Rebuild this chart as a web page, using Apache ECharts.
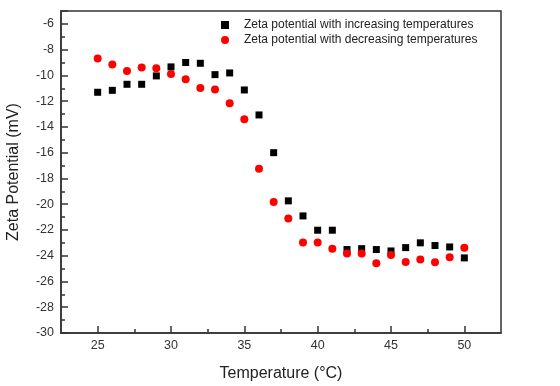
<!DOCTYPE html>
<html>
<head>
<meta charset="utf-8">
<script src="https://cdn.jsdelivr.net/npm/echarts@6/dist/echarts.min.js"></script>
<style>
html,body{margin:0;padding:0;background:#fff;}
#c{width:560px;height:386px;}
</style>
</head>
<body>
<div id="c"></div>
<script>
const temperatures = [25,26,27,28,29,30,31,32,33,34,35,36,37,38,39,40,41,42,43,44,45,46,47,48,49,50];
const increasing = [-11.31,-11.16,-10.69,-10.69,-10.04,-9.34,-9.0,-9.06,-9.94,-9.81,-11.13,-13.07,-16.0,-19.74,-20.91,-22.02,-22.02,-23.52,-23.45,-23.52,-23.63,-23.37,-23.0,-23.21,-23.32,-24.17];
const decreasing = [-8.69,-9.16,-9.65,-9.39,-9.45,-9.89,-10.30,-10.97,-11.10,-12.17,-13.41,-17.24,-19.82,-21.11,-22.98,-22.98,-23.45,-23.83,-23.83,-24.59,-23.94,-24.48,-24.30,-24.51,-24.12,-23.39];
const xTickLabels = [25,30,35,40,45,50];
const xMinorTicks = [27.5,32.5,37.5,42.5,47.5];
const seriesNames = ['Zeta potential with increasing temperatures','Zeta potential with decreasing temperatures'];

const font = '"Liberation Sans", Arial, sans-serif';
const axisColor = '#333';

const chart = echarts.init(document.getElementById('c'), null, {renderer:'canvas'});
chart.setOption({
  animation:false,
  backgroundColor:'#fff',
  grid:{left:61,right:59,top:11,bottom:53,outerBoundsMode:'none',containLabel:false,show:true,borderColor:axisColor,borderWidth:1.5,backgroundColor:'transparent'},
  legend:{
    orient:'vertical',left:216,top:13,itemWidth:8,itemHeight:8,itemGap:1,
    textStyle:{fontFamily:font,fontSize:12,color:'#222',padding:[0,0,0,10],lineHeight:14},
    data:[{name:seriesNames[0],icon:'rect'},{name:seriesNames[1],icon:'circle'}]
  },
  xAxis:[{
    type:'value',min:22.5,max:52.5,interval:2.5,
    name:'Temperature (°C)',nameLocation:'middle',nameGap:33,
    nameTextStyle:{fontFamily:font,fontSize:16,color:'#222'},
    axisLine:{show:true,onZero:false,lineStyle:{color:axisColor,width:1.5}},
    axisTick:{show:true,inside:true,length:7,customValues:xTickLabels,lineStyle:{color:axisColor,width:1.5}},
    axisLabel:{customValues:xTickLabels,margin:6,fontFamily:font,fontSize:12.5,color:'#333'},
    splitLine:{show:false}
  },{
    type:'value',min:22.5,max:52.5,interval:2.5,position:'bottom',
    axisLine:{show:false},
    axisTick:{show:true,inside:true,length:4,customValues:xMinorTicks,lineStyle:{color:axisColor,width:1.5}},
    axisLabel:{show:false},
    splitLine:{show:false}
  }],
  yAxis:{
    type:'value',min:-30,max:-5,interval:2,
    name:'Zeta Potential (mV)',nameLocation:'middle',nameGap:39,
    nameTextStyle:{fontFamily:font,fontSize:16,color:'#222'},
    axisLine:{show:true,onZero:false,lineStyle:{color:axisColor,width:1.5}},
    axisTick:{show:true,inside:true,length:7,lineStyle:{color:axisColor,width:1.5}},
    minorTick:{show:true,splitNumber:2,length:4,lineStyle:{color:axisColor,width:1.5}},
    axisLabel:{showMaxLabel:false,margin:7,fontFamily:font,fontSize:12.5,color:'#333'},
    splitLine:{show:false}
  },
  series:[{
    name:seriesNames[0],type:'scatter',symbol:'rect',symbolSize:7,
    itemStyle:{color:'#000',opacity:1},
    data:temperatures.map((t,i)=>[t,increasing[i]])
  },{
    name:seriesNames[1],type:'scatter',symbol:'circle',symbolSize:8,
    itemStyle:{color:'#ff0000',opacity:1},
    data:temperatures.map((t,i)=>[t,decreasing[i]])
  }]
});
</script>
</body>
</html>
